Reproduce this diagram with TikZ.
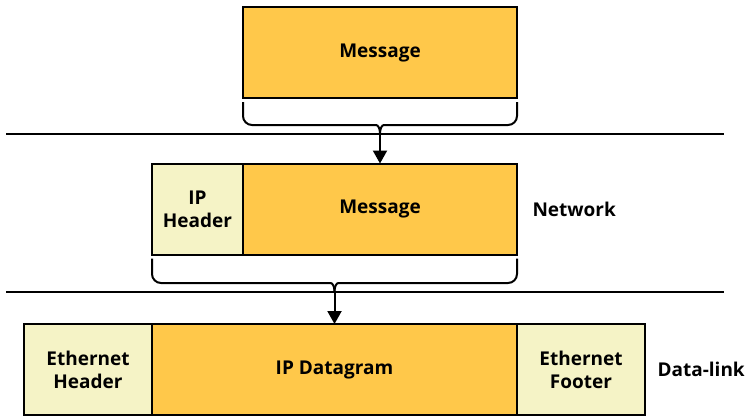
\documentclass[tikz,border=0pt]{standalone}
\usepackage{fontspec}
\setmainfont{Open Sans}
\usetikzlibrary{positioning,arrows.meta}
\definecolor{payload}{RGB}{255,200,74}
\definecolor{header}{RGB}{245,243,198}
\tikzset{
  blk/.style={draw,line width=2pt,outer sep=0pt,inner sep=2pt,
    minimum height=91pt,align=center,font=\bfseries\fontsize{19}{23}\selectfont},
  pay/.style={blk,fill=payload},
  hdr/.style={blk,fill=header,minimum width=128pt},
  layer/.style={font=\bfseries\fontsize{19}{23}\selectfont,anchor=west},
  sep/.style={line width=2pt},
  brace/.style={line width=2pt,rounded corners=9pt},
  down/.style={line width=2pt,-{Triangle[width=14pt,length=13pt]}}
}
\begin{document}
\begin{tikzpicture}[x=1pt,y=-1pt]
  \useasboundingbox (0,0) rectangle (752,416);
  % Application
  \node[pay,minimum width=274pt] (msg1) at (380,52.5) {Message};
  % Separateurs
  \coordinate (sepAl) at (6,134);
  \coordinate (sepAr) at (724,134);
  \coordinate (sepBl) at (6,292);
  \coordinate (sepBr) at (724,292);
  \draw[sep] (sepAl) -- (sepAr);
  \draw[sep] (sepBl) -- (sepBr);
  % Network
  \node[pay,minimum width=274pt] (msg2) at (380,209) {Message};
  \node[hdr,minimum width=91pt,left=0pt of msg2] (iph) {IP\\Header};
  \node[layer] (net) at (529,209) {Network};
  % Data-link
  \node[pay,minimum width=365pt] (ipd) at (334.5,369.5) {IP Datagram};
  \node[hdr,left=0pt of ipd] (ethh) {Ethernet\\Header};
  \node[hdr,right=0pt of ipd] (ethf) {Ethernet\\Footer};
  \node[layer] (dl) at (654,369) {Data-link};
  % Accolade sous le message
  \coordinate (tipA) at (380,134);
  \draw[brace] (msg1.south west) ++(0,4) -- (243,125) -- (367,125)
      .. controls (378,125) and (380,128) .. (tipA);
  \draw[brace] (msg1.south east) ++(0,4) -- (517,125) -- (393,125)
      .. controls (382,125) and (380,128) .. (tipA);
  \draw[down] (tipA) -- (msg2.north);
  % Accolade sous le datagramme
  \coordinate (tipB) at (334.5,292);
  \draw[brace] (iph.south west) ++(0,4) -- (152,283) -- (321.5,283)
      .. controls (332.5,283) and (334.5,286) .. (tipB);
  \draw[brace] (msg2.south east) ++(0,4) -- (517,283) -- (347.5,283)
      .. controls (336.5,283) and (334.5,286) .. (tipB);
  \draw[down] (tipB) -- (ipd.north);
\end{tikzpicture}
\end{document}
